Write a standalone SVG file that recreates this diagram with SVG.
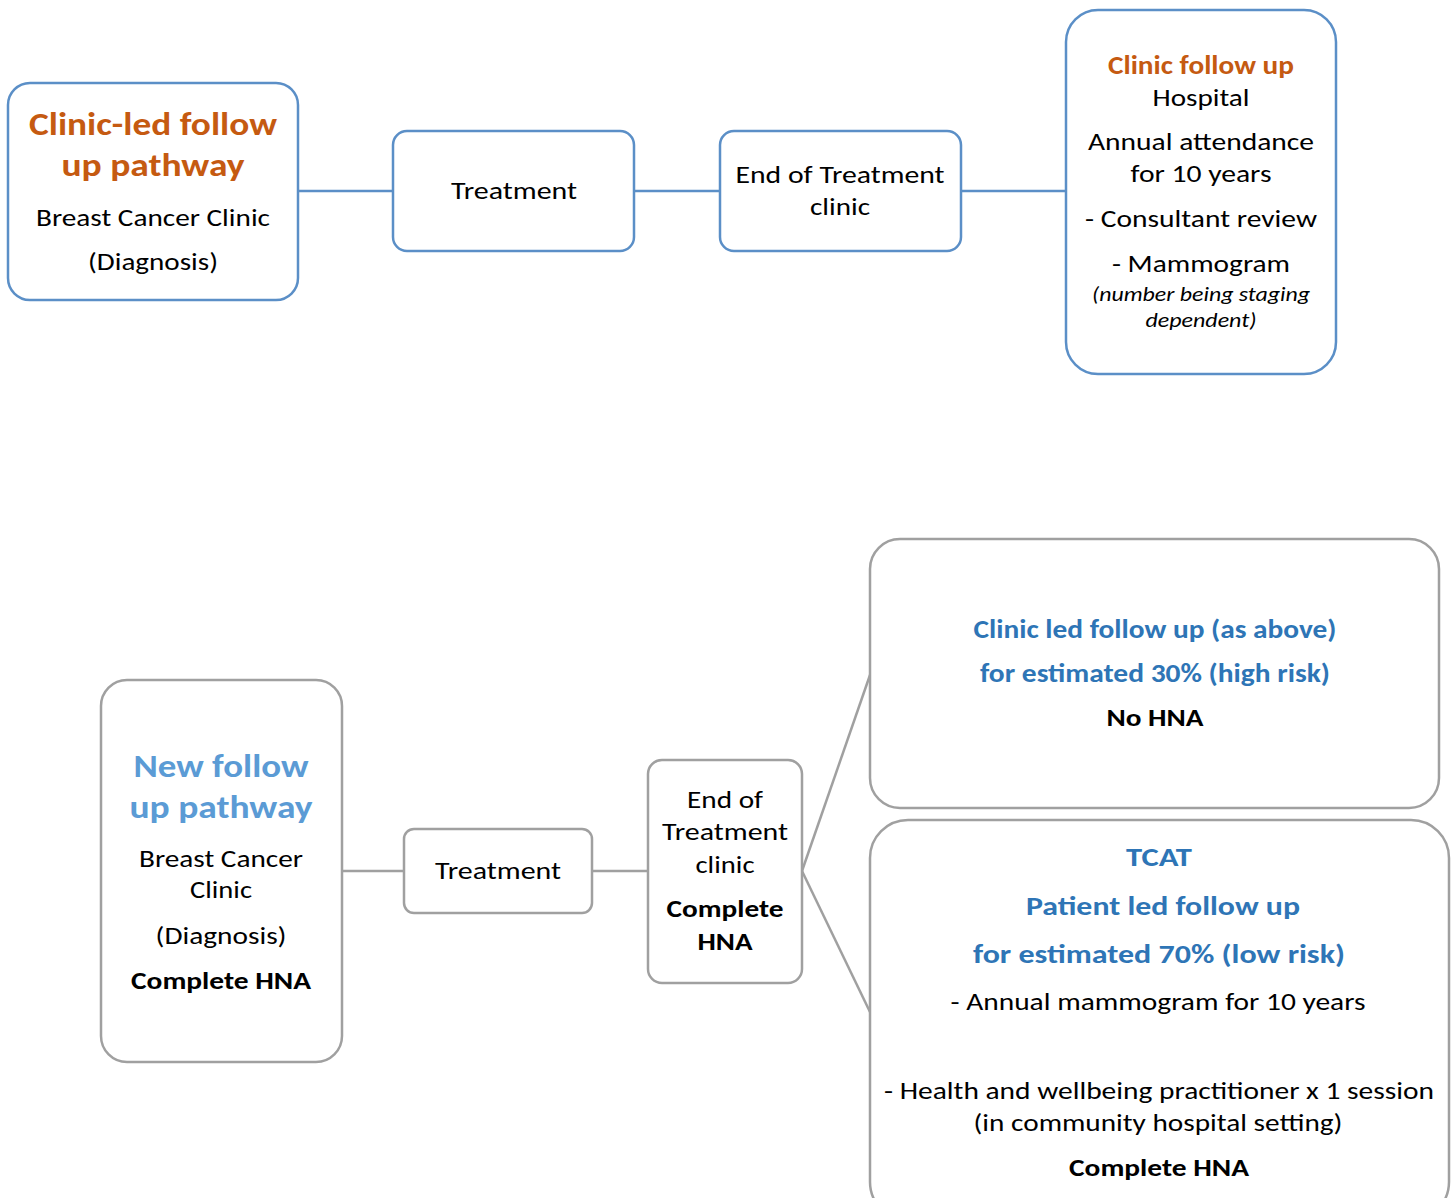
<svg xmlns="http://www.w3.org/2000/svg" width="1453" height="1198" viewBox="0 0 1453 1198">
<style>
text{font-family:Carlito,Lato,"Open Sans",sans-serif;text-anchor:middle;fill:#000;font-size:24px}
.b{font-weight:bold}
.or{fill:#C55A11;font-weight:bold;font-size:33px}
.or2{fill:#C55A11;font-weight:bold;font-size:26px}
.bl{fill:#2E75B6;font-weight:bold;font-size:26px}
.lb{fill:#5B9BD5;font-weight:bold;font-size:33px}
.it{font-style:italic;font-size:20px}
.top rect{fill:#fff;stroke:#5B8FC7;stroke-width:2.5}
.bot rect{fill:#fff;stroke:#A0A0A0;stroke-width:2.5}
#connectors line{stroke-width:2.5}
</style>
<g id="connectors">
<line x1="298" y1="191" x2="393" y2="191" stroke="#5B8FC7"/>
<line x1="634" y1="191" x2="720" y2="191" stroke="#5B8FC7"/>
<line x1="961" y1="191" x2="1066" y2="191" stroke="#5B8FC7"/>
<line x1="342" y1="871" x2="404" y2="871" stroke="#A0A0A0"/>
<line x1="592" y1="871" x2="648" y2="871" stroke="#A0A0A0"/>
<line x1="802" y1="871" x2="870" y2="675" stroke="#A0A0A0"/>
<line x1="802" y1="871" x2="870" y2="1012" stroke="#A0A0A0"/>
</g>
<g id="clinic-led" class="top">
<rect x="8" y="83" width="290" height="217" rx="22"/>
<text class="or" x="153" y="135" textLength="248" lengthAdjust="spacingAndGlyphs">Clinic-led follow</text>
<text class="or" x="153" y="176" textLength="183" lengthAdjust="spacingAndGlyphs">up pathway</text>
<text x="153" y="226" textLength="234" lengthAdjust="spacingAndGlyphs">Breast Cancer Clinic</text>
<text x="153" y="270" textLength="130" lengthAdjust="spacingAndGlyphs">(Diagnosis)</text>
</g>
<g id="treatment-top" class="top">
<rect x="393" y="131" width="241" height="120" rx="14"/>
<text x="514" y="199" textLength="126" lengthAdjust="spacingAndGlyphs">Treatment</text>
</g>
<g id="eot-top" class="top">
<rect x="720" y="131" width="241" height="120" rx="14"/>
<text x="840" y="183" textLength="209" lengthAdjust="spacingAndGlyphs">End of Treatment</text>
<text x="840" y="215" textLength="60" lengthAdjust="spacingAndGlyphs">clinic</text>
</g>
<g id="clinic-follow-up" class="top">
<rect x="1066" y="10" width="270" height="364" rx="32"/>
<text class="or2" x="1201" y="74" textLength="186" lengthAdjust="spacingAndGlyphs">Clinic follow up</text>
<text x="1201" y="106" textLength="97" lengthAdjust="spacingAndGlyphs">Hospital</text>
<text x="1201" y="150" textLength="226" lengthAdjust="spacingAndGlyphs">Annual attendance</text>
<text x="1201" y="182" textLength="141" lengthAdjust="spacingAndGlyphs">for 10 years</text>
<text x="1201" y="227" textLength="232" lengthAdjust="spacingAndGlyphs">- Consultant review</text>
<text x="1201" y="272" textLength="178" lengthAdjust="spacingAndGlyphs">- Mammogram</text>
<text class="it" x="1201" y="301" textLength="218" lengthAdjust="spacingAndGlyphs">(number being staging</text>
<text class="it" x="1201" y="327" textLength="111" lengthAdjust="spacingAndGlyphs">dependent)</text>
</g>
<g id="new-follow" class="bot">
<rect x="101" y="680" width="241" height="382" rx="26"/>
<text class="lb" x="221" y="777" textLength="175" lengthAdjust="spacingAndGlyphs">New follow</text>
<text class="lb" x="221" y="818" textLength="183" lengthAdjust="spacingAndGlyphs">up pathway</text>
<text x="221" y="867" textLength="164" lengthAdjust="spacingAndGlyphs">Breast Cancer</text>
<text x="221" y="898" textLength="62" lengthAdjust="spacingAndGlyphs">Clinic</text>
<text x="221" y="944" textLength="131" lengthAdjust="spacingAndGlyphs">(Diagnosis)</text>
<text class="b" x="221" y="989" textLength="180" lengthAdjust="spacingAndGlyphs">Complete HNA</text>
</g>
<g id="treatment-bot" class="bot">
<rect x="404" y="829" width="188" height="84" rx="10"/>
<text x="498" y="879" textLength="126" lengthAdjust="spacingAndGlyphs">Treatment</text>
</g>
<g id="eot-bot" class="bot">
<rect x="648" y="760" width="154" height="223" rx="14"/>
<text x="725" y="808" textLength="76" lengthAdjust="spacingAndGlyphs">End of</text>
<text x="725" y="840" textLength="126" lengthAdjust="spacingAndGlyphs">Treatment</text>
<text x="725" y="873" textLength="59" lengthAdjust="spacingAndGlyphs">clinic</text>
<text class="b" x="725" y="917" textLength="117" lengthAdjust="spacingAndGlyphs">Complete</text>
<text class="b" x="725" y="950" textLength="55" lengthAdjust="spacingAndGlyphs">HNA</text>
</g>
<g id="high-risk" class="bot">
<rect x="870" y="539" width="569" height="269" rx="30"/>
<text class="bl" x="1155" y="638" textLength="363" lengthAdjust="spacingAndGlyphs">Clinic led follow up (as above)</text>
<text class="bl" x="1155" y="682" textLength="350" lengthAdjust="spacingAndGlyphs">for estimated 30% (high risk)</text>
<text class="b" x="1155" y="726" textLength="97" lengthAdjust="spacingAndGlyphs">No HNA</text>
</g>
<g id="low-risk" class="bot">
<rect x="870" y="820" width="579" height="400" rx="38"/>
<text class="bl" x="1159" y="866" textLength="66" lengthAdjust="spacingAndGlyphs">TCAT</text>
<text class="bl" x="1163" y="915" textLength="274" lengthAdjust="spacingAndGlyphs">Patient led follow up</text>
<text class="bl" x="1159" y="963" textLength="372" lengthAdjust="spacingAndGlyphs">for estimated 70% (low risk)</text>
<text x="1158" y="1010" textLength="415" lengthAdjust="spacingAndGlyphs">- Annual mammogram for 10 years</text>
<text x="1159" y="1099" textLength="550" lengthAdjust="spacingAndGlyphs">- Health and wellbeing practitioner x 1 session</text>
<text x="1158" y="1131" textLength="369" lengthAdjust="spacingAndGlyphs">(in community hospital setting)</text>
<text class="b" x="1159" y="1176" textLength="180" lengthAdjust="spacingAndGlyphs">Complete HNA</text>
</g>
</svg>
